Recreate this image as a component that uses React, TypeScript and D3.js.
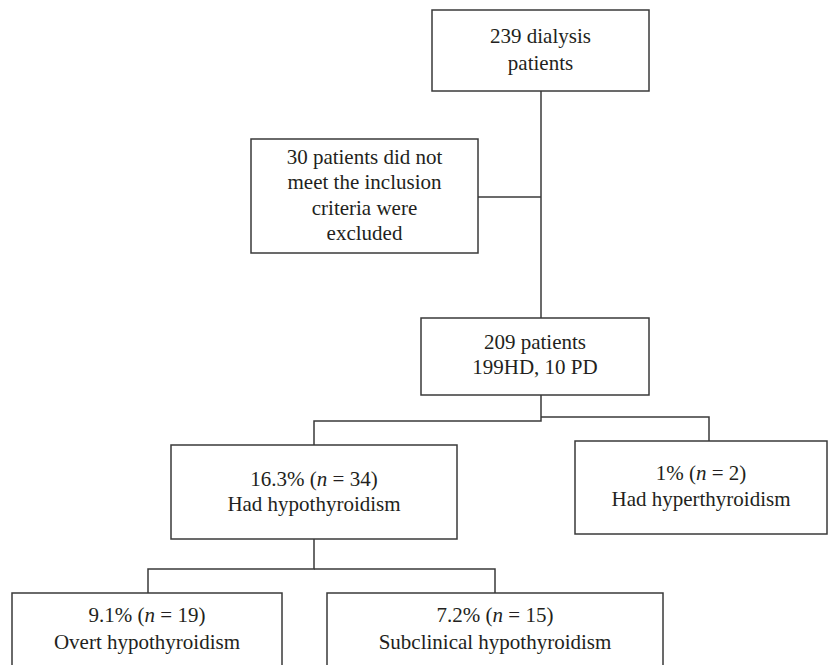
import React from "react";
import * as d3 from "d3";

// Node labels (text content); "*n*" marks italic n
const nodeIds = ["all", "excluded", "included", "hypo", "hyper", "overt", "subclinical"];
const nodeLabels: string[][] = [
  ["239 dialysis", "patients"],
  ["30 patients did not", "meet the inclusion", "criteria were", "excluded"],
  ["209 patients", "199HD, 10 PD"],
  ["16.3% (*n* = 34)", "Had hypothyroidism"],
  ["1% (*n* = 2)", "Had hyperthyroidism"],
  ["9.1% (*n* = 19)", "Overt hypothyroidism"],
  ["7.2% (*n* = 15)", "Subclinical hypothyroidism"],
];

// Layout (pixel boxes)
const layout: Record<string, { x0: number; y0: number; x1: number; y1: number; cy: number; gap: number }> = {
  all: { x0: 432, y0: 10, x1: 649, y1: 91, cy: 49.5, gap: 27 },
  excluded: { x0: 251, y0: 139, x1: 478, y1: 253, cy: 195, gap: 25.5 },
  included: { x0: 421, y0: 318, x1: 649, y1: 395, cy: 354.5, gap: 25 },
  hypo: { x0: 171, y0: 445, x1: 457, y1: 539, cy: 491.5, gap: 25 },
  hyper: { x0: 575, y0: 441, x1: 827, y1: 534, cy: 486, gap: 26 },
  overt: { x0: 12, y0: 593, x1: 282, y1: 720, cy: 628.5, gap: 27 },
  subclinical: { x0: 327, y0: 593, x1: 663, y1: 720, cy: 628.5, gap: 27 },
};

// Connectors as polylines
const connectors: [number, number][][] = [
  [[541, 91], [541, 318]],
  [[478, 197], [541, 197]],
  [[541, 395], [541, 421], [314, 421], [314, 445]],
  [[541, 417], [709, 417], [709, 441]],
  [[314, 539], [314, 569], [148, 569], [148, 593]],
  [[314, 569], [495, 569], [495, 593]],
];

const STROKE = "#3a3a3a";
const TEXT = "#231f20";
const FONT = "'Liberation Serif', 'Times New Roman', serif";

function renderLine(s: string) {
  const parts = s.split("*");
  return parts.map((p, i) => (
    <tspan key={i} fontStyle={i % 2 === 1 ? "italic" : "normal"}>
      {p}
    </tspan>
  ));
}

export default function App() {
  const line = d3.line<[number, number]>().x((d) => d[0]).y((d) => d[1]);
  return (
    <svg width={828} height={665} style={{ position: "absolute", left: 0, top: 0, background: "#fff" }}>
      <rect x={0} y={0} width={828} height={665} fill="#fff" />
      {connectors.map((c, i) => (
        <path key={i} d={line(c) || ""} fill="none" stroke={STROKE} strokeWidth={1.5} />
      ))}
      {nodeIds.map((id, i) => {
        const b = layout[id];
        const lines = nodeLabels[i];
        const cx = (b.x0 + b.x1) / 2;
        const start = b.cy - ((lines.length - 1) * b.gap) / 2;
        return (
          <g key={id}>
            <rect
              x={b.x0}
              y={b.y0}
              width={b.x1 - b.x0}
              height={b.y1 - b.y0}
              fill="#fff"
              stroke={STROKE}
              strokeWidth={1.5}
            />
            {lines.map((l, j) => (
              <text
                key={j}
                x={cx}
                y={start + j * b.gap}
                textAnchor="middle"
                dominantBaseline="central"
                style={{ fontFamily: FONT, fontSize: 21 }}
                fill={TEXT}
              >
                {renderLine(l)}
              </text>
            ))}
          </g>
        );
      })}
    </svg>
  );
}
